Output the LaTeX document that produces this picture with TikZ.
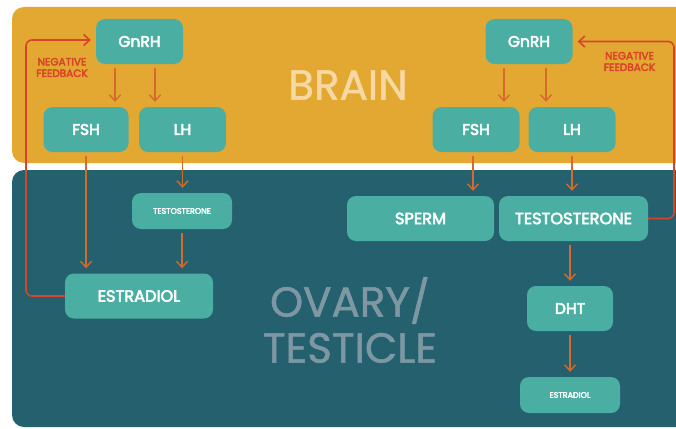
\documentclass[tikz,border=0pt]{standalone}
\usepackage{fontspec}
\setmainfont{Poppins}[AutoFakeBold=3.5]
\newfontfamily\headfont{Poppins}[FakeBold=1.2]
\usetikzlibrary{arrows.meta}
\definecolor{brainorange}{HTML}{E3A832}
\definecolor{bodyteal}{HTML}{24606E}
\definecolor{boxteal}{HTML}{4AAFA2}
\definecolor{arroworange}{HTML}{D46A2C}
\definecolor{fbred}{HTML}{D8432A}
\definecolor{braintext}{HTML}{F6D9A2}
\definecolor{organtext}{HTML}{7E98A3}

\begin{document}
\begin{tikzpicture}[x=1pt,y=-1pt,
    box/.style={fill=boxteal, rounded corners=9pt, text=white, inner sep=0pt,
      font=\bfseries\fontsize{15.5}{17}\selectfont, minimum width=87pt, minimum height=45pt},
    widebox/.style={box, font=\bfseries\fontsize{16.2}{18}\selectfont, minimum width=148pt},
    smallbox/.style={box, font=\bfseries\fontsize{8}{9}\selectfont, minimum width=100pt, minimum height=36pt},
    hormone/.style={draw=arroworange, line width=1.4pt, -{Straight Barb[length=6pt,width=11pt]},
      shorten <=4pt, shorten >=5pt},
    fb/.style={draw=fbred, line width=1.6pt, rounded corners=6pt, -{Straight Barb[length=6pt,width=11pt]},
      shorten >=5pt},
    fblabel/.style={text=fbred, font=\bfseries\fontsize{10.5}{11.5}\selectfont, align=center, inner sep=0pt}]
  \useasboundingbox (0,0) rectangle (676,428);
  \clip (0,0) rectangle (676,428);

  % panels
  \fill[brainorange, rounded corners=12pt] (12,7) rectangle (720,163);
  \fill[bodyteal, rounded corners=12pt] (12,170) rectangle (720,427);
  \node[text=braintext, font=\headfont\fontsize{42}{46}\selectfont] (brain) at (348,85) {BRAIN};
  \node[text=organtext, font=\headfont\fontsize{42}{46}\selectfont, align=center] (organ) at (350,320) {OVARY/\\TESTICLE};

  % left side
  \node[box] (gnl) at (139.5,41.5) {GnRH};
  \node[box, minimum width=85pt] (fshl) at (86,129.5) {FSH};
  \node[box] (lhl) at (182.5,129.5) {LH};
  \node[smallbox] (tsl) at (182,211) {TESTOSTERONE};
  \node[widebox] (estl) at (139,296) {ESTRADIOL};
  \coordinate (fbl) at (26,0);
  \node[fblabel] (negl) at (62,67.5) {NEGATIVE\\FEEDBACK};

  % right side
  \node[box] (gnr) at (529,41.5) {GnRH};
  \node[box] (fshr) at (476,129.5) {FSH};
  \node[box] (lhr) at (572,129.5) {LH};
  \node[widebox, minimum width=147pt] (sperm) at (420.5,218.5) {SPERM};
  \node[widebox, minimum width=149pt] (tsr) at (573.5,218.5) {TESTOSTERONE};
  \node[box, minimum width=86pt] (dht) at (570,308.5) {DHT};
  \node[smallbox] (esr) at (570,395) {ESTRADIOL};
  \coordinate (fbr) at (674,0);
  \node[fblabel] (negr) at (629.5,61.5) {NEGATIVE\\FEEDBACK};

  % hormone arrows
  \draw[hormone] ([xshift=-24.5pt]gnl.south) -- ([xshift=-24.5pt]gnl.south |- fshl.north);
  \draw[hormone] ([xshift=15.5pt]gnl.south) -- ([xshift=15.5pt]gnl.south |- lhl.north);
  \draw[hormone] (fshl.south) -- (fshl.south |- estl.north);
  \draw[hormone] (lhl.south) -- (lhl.south |- tsl.north);
  \draw[hormone] (tsl.south) -- (tsl.south |- estl.north);
  \draw[hormone] ([xshift=-25pt]gnr.south) -- ([xshift=-25pt]gnr.south |- fshr.north);
  \draw[hormone] ([xshift=17pt]gnr.south) -- ([xshift=17pt]gnr.south |- lhr.north);
  \draw[hormone] ([xshift=-3pt]fshr.south) -- ([xshift=-3pt]fshr.south |- sperm.north);
  \draw[hormone] (lhr.south) -- (lhr.south |- tsr.north);
  \draw[hormone] (dht.north |- tsr.south) -- (dht.north);
  \draw[hormone] (dht.south) -- (esr.north);

  % negative feedback
  \draw[fb] (estl.west) -- (estl.west -| fbl) -- ([yshift=1.5pt]fbl |- gnl.west) -- ([yshift=1.5pt]gnl.west);
  \draw[fb] (tsr.east) -- (tsr.east -| fbr) -- (fbr |- gnr.east) -- (gnr.east);
\end{tikzpicture}
\end{document}
